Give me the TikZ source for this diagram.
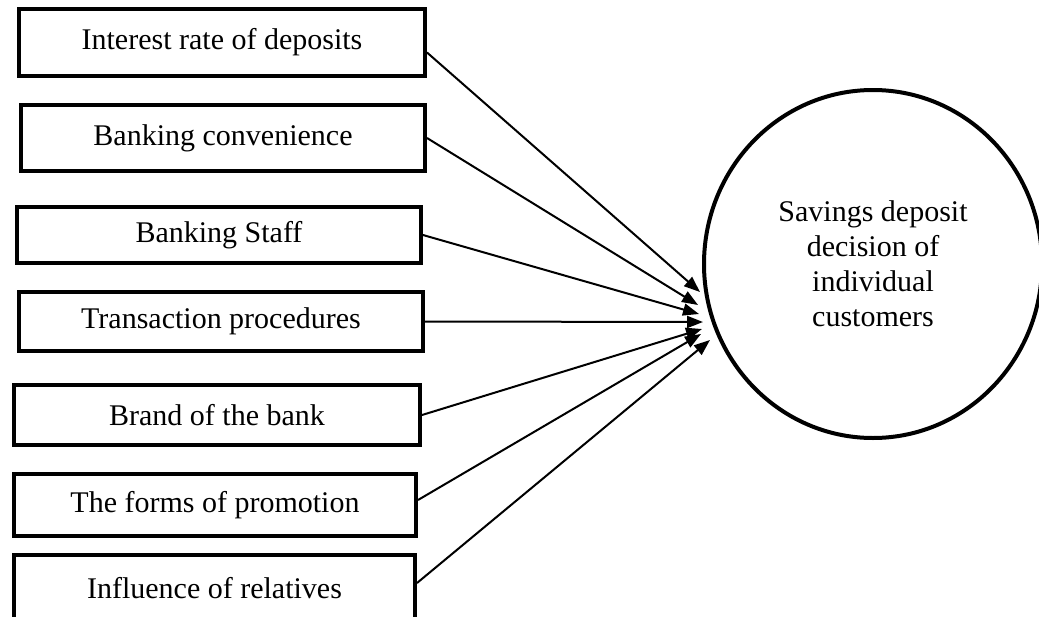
\documentclass[tikz,border=0pt]{standalone}
\usepackage{fontspec}
\setmainfont{Liberation Serif}
\usepackage{tikz}
\usetikzlibrary{arrows.meta}
\usetikzlibrary{shapes.geometric}

\tikzset{
  factor/.style={draw, line width=4pt, inner sep=0pt, minimum width=404pt, font=\fontsize{30}{35}\selectfont},
  decision/.style={draw, ellipse, line width=4pt, inner sep=0pt, minimum width=338pt, minimum height=348pt, align=center, font=\fontsize{30}{35}\selectfont},
  influence/.style={line width=2pt, -{Triangle[length=16pt,width=12pt]}}
}

\begin{document}
\begin{tikzpicture}[x=1pt,y=-1pt]
 	\useasboundingbox (0,0) rectangle (1039,616);
 	\clip (0,0) rectangle (1039,616);
 	%factors
 	\node[factor, minimum width=406pt, minimum height=67pt] (rate) at (222,42.5) {Interest rate of deposits};
 	\node[factor, minimum height=66pt] (conv) at (223,138) {Banking convenience};
 	\node[factor, minimum height=56pt] (staff) at (219,235) {Banking Staff};
 	\node[factor, minimum height=59pt] (proc) at (221,321.5) {Transaction procedures};
 	\node[factor, minimum width=406pt, minimum height=60pt] (brand) at (217,415) {Brand of the bank};
 	\node[factor, minimum width=402pt, minimum height=62pt] (promo) at (215,505) {The forms of promotion};
 	\node[factor, minimum width=401pt, minimum height=66pt] (rel) at (214.5,588) {Influence of relatives};
 	%decision
 	\node[decision] (dec) at (873,264) {Savings deposit\\decision of\\individual\\customers};
 	%arrow tips at the circle
 	\coordinate (t1) at (700,292);
 	\coordinate (t2) at (698,305);
 	\coordinate (t3) at (699,314);
 	\coordinate (t4) at (703,322);
 	\coordinate (t5) at (702,329);
 	\coordinate (t6) at (701,334);
 	\coordinate (t7) at (710,340);
 	\draw[influence] ([yshift=-10pt]rate.east) -- (t1);
 	\draw[influence] (conv.east) -- (t2);
 	\draw[influence] (staff.east) -- (t3);
 	\draw[influence] (proc.east) -- (t4);
 	\draw[influence] (brand.east) -- (t5);
 	\draw[influence] ([yshift=5pt]promo.east) -- (t6);
 	\draw[influence] ([yshift=5pt]rel.east) -- (t7);
 	\end{tikzpicture}
\end{document}
